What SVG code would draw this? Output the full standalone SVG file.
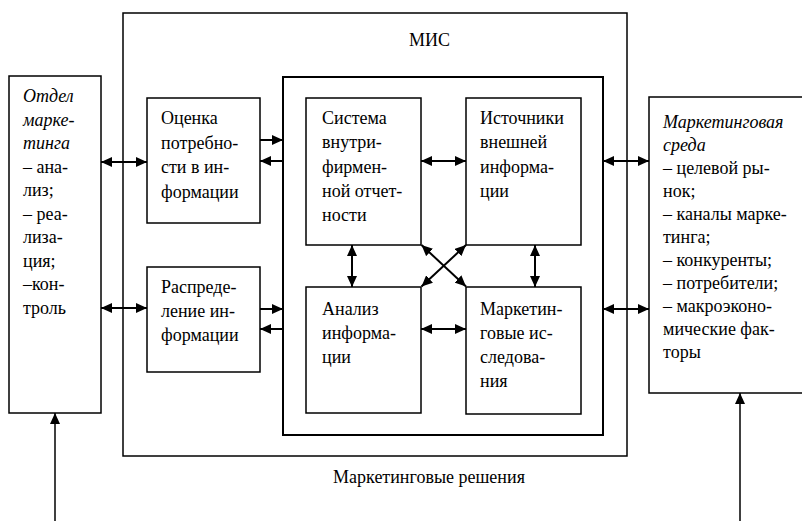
<svg xmlns="http://www.w3.org/2000/svg" width="802" height="521" viewBox="0 0 802 521">
  <style>
    .box { fill: #fff; stroke: #000; stroke-width: 1.5; }
    .frame { fill: none; stroke: #000; stroke-width: 1.5; }
    .frame2 { fill: none; stroke: #000; stroke-width: 2; }
    .t { font-family: 'Liberation Serif', Tinos, 'Times New Roman', 'DejaVu Serif', serif; font-size: 18px; fill: #000; }
    .i { font-style: italic; }
    .arr { stroke: #000; stroke-width: 2; fill: none; marker-end: url(#ah); }
    .dbl { stroke: #000; stroke-width: 2; fill: none; marker-start: url(#ah); marker-end: url(#ah); }
    .up { stroke: #000; stroke-width: 1.5; fill: none; marker-end: url(#ah); }
  </style>
  <defs>
    <marker id="ah" markerUnits="userSpaceOnUse" markerWidth="12" markerHeight="10" refX="11" refY="5" orient="auto-start-reverse">
      <path d="M0,0 L11,5 L0,10 z" fill="#000"/>
    </marker>
  </defs>
  <rect width="802" height="521" fill="#fff"/>

  <!-- MIS container -->
  <g id="mis">
    <rect class="frame" x="123" y="13" width="504" height="443"/>
    <text class="t" x="409" y="46" font-family="Liberation Serif, serif">МИС</text>
  </g>
  <g id="core">
    <rect class="frame2" x="283" y="77" width="320" height="358"/>
  </g>

  <!-- Marketing department -->
  <g id="dept">
    <rect class="box" x="9" y="76" width="92" height="337"/>
    <text class="t" x="23" font-family="Liberation Serif, serif">
      <tspan class="i" x="23" y="102">Отдел</tspan>
      <tspan class="i" x="23" y="125.5">марке-</tspan>
      <tspan class="i" x="23" y="149">тинга</tspan>
      <tspan x="23" y="172.5">– ана-</tspan>
      <tspan x="23" y="196">лиз;</tspan>
      <tspan x="23" y="219.5">– реа-</tspan>
      <tspan x="23" y="243">лиза-</tspan>
      <tspan x="23" y="266.5">ция;</tspan>
      <tspan x="23" y="290">–кон-</tspan>
      <tspan x="23" y="313.5">троль</tspan>
    </text>
  </g>

  <!-- Marketing environment -->
  <g id="env">
    <rect class="box" x="649" y="97" width="170" height="296"/>
    <text class="t" x="663" font-family="Liberation Serif, serif">
      <tspan class="i" x="663" y="128">Маркетинговая</tspan>
      <tspan class="i" x="663" y="151">среда</tspan>
      <tspan x="663" y="174">– целевой ры-</tspan>
      <tspan x="663" y="197">нок;</tspan>
      <tspan x="663" y="220">– каналы марке-</tspan>
      <tspan x="663" y="243">тинга;</tspan>
      <tspan x="663" y="266">– конкуренты;</tspan>
      <tspan x="663" y="289">– потребители;</tspan>
      <tspan x="663" y="312">– макроэконо-</tspan>
      <tspan x="663" y="335">мические фак-</tspan>
      <tspan x="663" y="358">торы</tspan>
    </text>
  </g>

  <g id="needs">
    <rect class="box" x="147" y="98" width="113" height="125"/>
    <text class="t" font-family="Liberation Serif, serif">
      <tspan x="161" y="124">Оценка</tspan>
      <tspan x="161" y="148.5">потребно-</tspan>
      <tspan x="161" y="173">сти в ин-</tspan>
      <tspan x="161" y="197.5">формации</tspan>
    </text>
  </g>

  <g id="distribution">
    <rect class="box" x="147" y="267" width="113" height="105"/>
    <text class="t" font-family="Liberation Serif, serif">
      <tspan x="161" y="293">Распреде-</tspan>
      <tspan x="161" y="317">ление ин-</tspan>
      <tspan x="161" y="341">формации</tspan>
    </text>
  </g>

  <g id="internal">
    <rect class="box" x="306" y="98" width="115" height="147"/>
    <text class="t" font-family="Liberation Serif, serif">
      <tspan x="322" y="124">Система</tspan>
      <tspan x="322" y="148.3">внутри-</tspan>
      <tspan x="322" y="172.6">фирмен-</tspan>
      <tspan x="322" y="196.9">ной отчет-</tspan>
      <tspan x="322" y="221.2">ности</tspan>
    </text>
  </g>

  <g id="external">
    <rect class="box" x="466" y="98" width="115" height="147"/>
    <text class="t" font-family="Liberation Serif, serif">
      <tspan x="480" y="124">Источники</tspan>
      <tspan x="480" y="148.3">внешней</tspan>
      <tspan x="480" y="172.6">информа-</tspan>
      <tspan x="480" y="196.9">ции</tspan>
    </text>
  </g>

  <g id="analysis">
    <rect class="box" x="306" y="287" width="115" height="126"/>
    <text class="t" font-family="Liberation Serif, serif">
      <tspan x="322" y="315">Анализ</tspan>
      <tspan x="322" y="339">информа-</tspan>
      <tspan x="322" y="363">ции</tspan>
    </text>
  </g>

  <g id="research">
    <rect class="box" x="466" y="287" width="115" height="127"/>
    <text class="t" font-family="Liberation Serif, serif">
      <tspan x="480" y="315">Маркетин-</tspan>
      <tspan x="480" y="339">говые ис-</tspan>
      <tspan x="480" y="363">следова-</tspan>
      <tspan x="480" y="387">ния</tspan>
    </text>
  </g>

  <g id="decisions">
    <text class="t" x="429" y="483" text-anchor="middle" font-family="Liberation Serif, serif">Маркетинговые решения</text>
  </g>

  <g id="connectors">
    <line class="dbl" x1="101" y1="162" x2="147" y2="162"/>
    <line class="dbl" x1="101" y1="308" x2="147" y2="308"/>
    <line class="arr" x1="260" y1="140" x2="283" y2="140"/>
    <line class="arr" x1="283" y1="161" x2="260" y2="161"/>
    <line class="arr" x1="260" y1="309" x2="283" y2="309"/>
    <line class="arr" x1="283" y1="329" x2="260" y2="329"/>
    <line class="dbl" x1="421" y1="161" x2="466" y2="161"/>
    <line class="dbl" x1="421" y1="329" x2="466" y2="329"/>
    <line class="dbl" x1="603" y1="161" x2="649" y2="161"/>
    <line class="dbl" x1="603" y1="309" x2="649" y2="309"/>
    <line class="dbl" x1="352" y1="245" x2="352" y2="287"/>
    <line class="dbl" x1="535" y1="245" x2="535" y2="287"/>
    <line class="dbl" x1="421.5" y1="245" x2="466" y2="286.5"/>
    <line class="dbl" x1="466" y1="245" x2="421.5" y2="286.5"/>
    <line class="up" x1="55" y1="521" x2="55" y2="413"/>
    <line class="up" x1="740" y1="521" x2="740" y2="393"/>
  </g>
</svg>
